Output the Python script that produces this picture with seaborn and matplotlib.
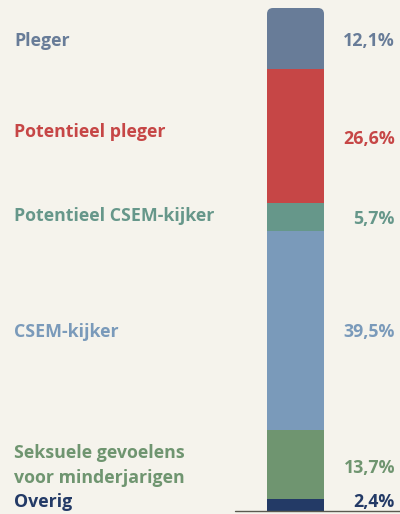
import matplotlib
matplotlib.use("Agg")
import matplotlib.pyplot as plt
from matplotlib.patches import FancyBboxPatch
import matplotlib.transforms as mtrans
import seaborn as sns
import numpy as np

# data, top to bottom as in the chart
labels = ["Pleger", "Potentieel pleger", "Potentieel CSEM-kijker", "CSEM-kijker",
          "Seksuele gevoelens\nvoor minderjarigen", "Overig"]
values = [12.1, 26.6, 5.7, 39.5, 13.7, 2.4]
value_text = ["12,1%", "26,6%", "5,7%", "39,5%", "13,7%", "2,4%"]
colors = ["#687c98", "#c64646", "#66978a", "#7a9aba", "#6f9570", "#233a66"]

# pixel nudges for the text (label, value), baseline relative to segment middle
label_dy = [8, 1, 4, 6, 19, 2]
value_dy = [8, 8, 7, 6, 9, 2]

bg = "#f5f3ec"
sns.set_theme(style="white")
plt.rcParams["font.family"] = ["Open Sans", "DejaVu Sans"]

fig = plt.figure(figsize=(4.0, 5.14), dpi=100, facecolor=bg)
ax = fig.add_axes([0, 0, 1, 1])
ax.set_facecolor(bg)

# stack from the bottom up
tops = 100 - np.cumsum([0] + values[:-1])
bottoms = tops - np.array(values)
for v, b, c in zip(values, bottoms, colors):
    sns.barplot(x=[0], y=[v], bottom=b, color=c, saturation=1, width=0.8,
                errorbar=None, linewidth=0, ax=ax)

# map axes to the picture: bar 267..324 px, 0% at 511 px, 100% at 8 px
px_x = 57 / 0.8
ax.set_xlim(-295.5 / px_x, (400 - 295.5) / px_x)
px_y = 503 / 100
ax.set_ylim(-3 / px_y, (514 - 3) / px_y)
ax.axis("off")

# rounded top corners of the first segment
top_patch = ax.patches[0]
r = 6 / px_x
clip = FancyBboxPatch((-0.4, 50), 0.8, 50, boxstyle=f"round,pad=0,rounding_size={r}",
                      mutation_aspect=px_x / px_y, transform=ax.transData,
                      facecolor="none", edgecolor="none")
ax.add_patch(clip)
top_patch.set_clip_path(clip)

ax.axhline(0, xmin=235 / 400, xmax=1, color="#5b5a50", lw=1)

trans = mtrans.blended_transform_factory(ax.transAxes, ax.transData)
for lab, vt, t, b, c, ldy, vdy in zip(labels, value_text, tops, bottoms, colors,
                                      label_dy, value_dy):
    mid = (t + b) / 2
    ax.annotate(lab, xy=(14 / 400, mid), xycoords=trans, xytext=(0, -ldy),
                textcoords="offset pixels", ha="left", va="baseline",
                fontsize=12.8, fontweight="bold", color=c, linespacing=1.55)
    ax.annotate(vt, xy=(395 / 400, mid), xycoords=trans, xytext=(0, -vdy),
                textcoords="offset pixels", ha="right", va="baseline",
                fontsize=12.8, fontweight="bold", color=c)

fig.savefig("out.png", dpi=100, facecolor=bg)
